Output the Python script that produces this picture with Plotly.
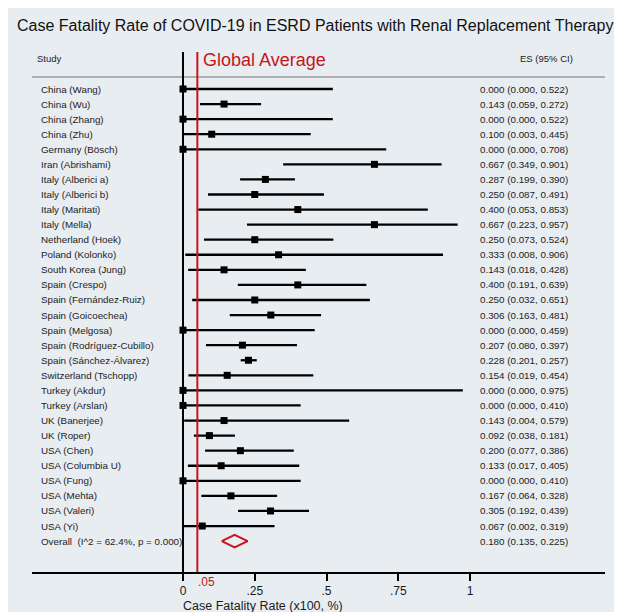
import plotly.graph_objects as go

studies = ["China (Wang)", "China (Wu)", "China (Zhang)", "China (Zhu)", "Germany (Bösch)",
           "Iran (Abrishami)", "Italy (Alberici a)", "Italy (Alberici b)", "Italy (Maritati)",
           "Italy (Mella)", "Netherland (Hoek)", "Poland (Kolonko)", "South Korea (Jung)",
           "Spain (Crespo)", "Spain (Fernández-Ruiz)", "Spain (Goicoechea)", "Spain (Melgosa)",
           "Spain (Rodríguez-Cubillo)", "Spain (Sánchez-Álvarez)", "Switzerland (Tschopp)",
           "Turkey (Akdur)", "Turkey (Arslan)", "UK (Banerjee)", "UK (Roper)", "USA (Chen)",
           "USA (Columbia U)", "USA (Fung)", "USA (Mehta)", "USA (Valeri)", "USA (Yi)"]
es = [0.000, 0.143, 0.000, 0.100, 0.000, 0.667, 0.287, 0.250, 0.400, 0.667, 0.250, 0.333,
      0.143, 0.400, 0.250, 0.306, 0.000, 0.207, 0.228, 0.154, 0.000, 0.000, 0.143, 0.092,
      0.200, 0.133, 0.000, 0.167, 0.305, 0.067]
lo = [0.000, 0.059, 0.000, 0.003, 0.000, 0.349, 0.199, 0.087, 0.053, 0.223, 0.073, 0.008,
      0.018, 0.191, 0.032, 0.163, 0.000, 0.080, 0.201, 0.019, 0.000, 0.000, 0.004, 0.038,
      0.077, 0.017, 0.000, 0.064, 0.192, 0.002]
hi = [0.522, 0.272, 0.522, 0.445, 0.708, 0.901, 0.390, 0.491, 0.853, 0.957, 0.524, 0.906,
      0.428, 0.639, 0.651, 0.481, 0.459, 0.397, 0.257, 0.454, 0.975, 0.410, 0.579, 0.181,
      0.386, 0.405, 0.410, 0.328, 0.439, 0.319]
overall_label = "Overall  (I^2 = 62.4%, p = 0.000)"
overall_es, overall_lo, overall_hi = 0.180, 0.135, 0.225
global_avg = 0.05
tick_vals = [0, 0.25, 0.5, 0.75, 1]
tick_text = ["0", ".25", ".5", ".75", "1"]

W, H = 622, 612
OFFX, OFFY = 8.0, 8.0   # page body margin
FONT = "Liberation Sans, Arial, sans-serif"
BG = "#e8edf1"
RED = "#c4161c"
TXT = "#222222"

n = len(studies)
rows = list(range(n))
overall_row = n

X0PX, X1PX = 183.0, 470.0
def px2x(px):
    return (px - X0PX) / (X1PX - X0PX)
ROW0, ROWH = 89.0, 15.07
def py2row(py):
    return (py - ROW0) / ROWH
def pxp(px):
    return (px - OFFX) / W
def pyp(py):
    return 1 - (py - OFFY) / H

AXIS_PY = 572.0
TOP_PY = 8.0

fig = go.Figure()

cx, cy = [], []
for r, a, b in zip(rows, lo, hi):
    cx += [a, b, None]
    cy += [r, r, None]
fig.add_trace(go.Scatter(x=cx, y=cy, mode="lines", line=dict(color="black", width=2.3),
                         hoverinfo="skip", showlegend=False))
fig.add_trace(go.Scatter(x=es, y=rows, mode="markers",
                         marker=dict(symbol="square", size=7, color="black"),
                         showlegend=False))
dh = 0.42
fig.add_trace(go.Scatter(
    x=[overall_lo, overall_es, overall_hi, overall_es, overall_lo],
    y=[overall_row, overall_row - dh, overall_row, overall_row + dh, overall_row],
    mode="lines", line=dict(color=RED, width=2), showlegend=False))

annotations = []
label_x = px2x(39)
value_x = px2x(478)
def txt(x, y, s, size=9.8, color=TXT, xanchor="left", xref="x", yref="y", xshift=0):
    annotations.append(dict(x=x, y=y, xref=xref, yref=yref, text=s, showarrow=False,
                            xanchor=xanchor, yanchor="middle", xshift=xshift,
                            font=dict(family=FONT, size=size, color=color)))

for r, s, e, a, b in zip(rows, studies, es, lo, hi):
    txt(label_x, r, s)
    txt(value_x, r, f"{e:.3f} ({a:.3f}, {b:.3f})")
txt(label_x, overall_row, overall_label)
txt(value_x, overall_row, f"{overall_es:.3f} ({overall_lo:.3f}, {overall_hi:.3f})")
txt(px2x(35), py2row(58), "Study", size=9.5)
txt(px2x(518), py2row(58), "ES (95% CI)", size=9.5)
txt(global_avg, py2row(60), "Global Average", size=18, color=RED, xshift=4)
txt(pxp(315), pyp(25),
    "Case Fatality Rate of COVID-19 in ESRD Patients with Renal Replacement Therapy",
    size=16, color="#111111", xanchor="center", xref="paper", yref="paper")
txt(global_avg, pyp(582), ".05", size=12, color=RED, xref="x", yref="paper", xshift=-1)
txt(0, pyp(605.5), "Case Fatality Rate (x100, %)", size=12.5, color="#1a1a1a",
    xref="x", yref="paper", xshift=-2)

axis_row = py2row(AXIS_PY)
top_row = py2row(TOP_PY)
line_top = py2row(52)

shapes = [
    dict(type="line", xref="paper", yref="y", x0=pxp(32), x1=pxp(605),
         y0=py2row(77), y1=py2row(77), line=dict(color="#9a9a9a", width=1.5)),
    dict(type="line", xref="x", yref="y", x0=0, x1=0, y0=line_top, y1=axis_row,
         line=dict(color="black", width=2)),
    dict(type="line", xref="x", yref="y", x0=global_avg, x1=global_avg, y0=line_top,
         y1=axis_row, line=dict(color=RED, width=2)),
]

fig.update_layout(
    width=W, height=H,
    margin=dict(l=0, r=0, t=0, b=0),
    paper_bgcolor=BG, plot_bgcolor=BG,
    showlegend=False,
    annotations=annotations,
    shapes=shapes,
    xaxis=dict(domain=[pxp(32), pxp(605)], range=[px2x(32), px2x(605)],
               showgrid=False, zeroline=False, showline=True, linecolor="black", linewidth=2,
               ticks="outside", ticklen=7, tickwidth=2, tickcolor="black",
               tickvals=tick_vals, ticktext=tick_text,
               tickfont=dict(family=FONT, size=12, color="#1a1a1a"), fixedrange=True),
    yaxis=dict(domain=[pyp(AXIS_PY), pyp(TOP_PY)], range=[axis_row, top_row],
               showgrid=False, zeroline=False, showline=False, showticklabels=False,
               ticks="", fixedrange=True),
)

fig.write_html("out.html")
